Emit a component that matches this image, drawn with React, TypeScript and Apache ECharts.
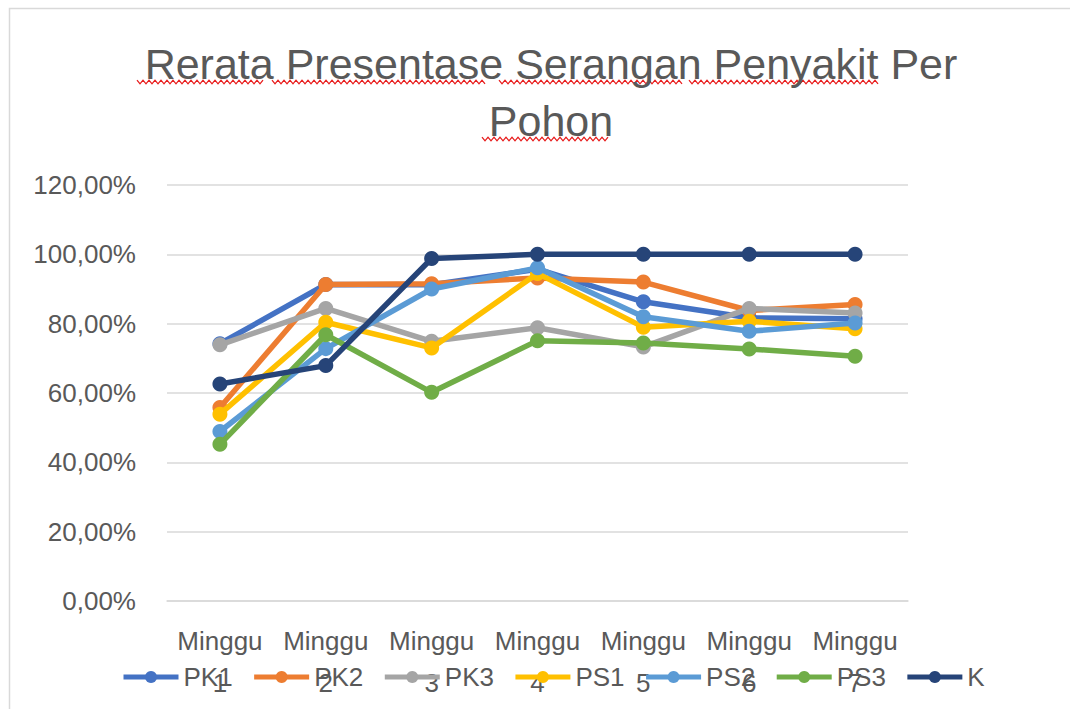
import React, { useEffect, useRef } from "react";
import * as echarts from "echarts";

const categories = ["Minggu\n1", "Minggu\n2", "Minggu\n3", "Minggu\n4", "Minggu\n5", "Minggu\n6", "Minggu\n7"];
const yTicks = [0, 0.2, 0.4, 0.6, 0.8, 1.0, 1.2];

const PK1 = [0.742, 0.913, 0.912, 0.957, 0.863, 0.817, 0.814];
const PK2 = [0.558, 0.913, 0.915, 0.932, 0.920, 0.838, 0.855];
const PK3 = [0.739, 0.844, 0.749, 0.788, 0.733, 0.844, 0.831];
const PS1 = [0.539, 0.804, 0.730, 0.945, 0.790, 0.807, 0.785];
const PS2 = [0.489, 0.728, 0.900, 0.961, 0.820, 0.778, 0.802];
const PS3 = [0.452, 0.768, 0.602, 0.751, 0.744, 0.727, 0.706];
const K = [0.626, 0.679, 0.988, 1.0, 1.0, 1.0, 1.0];

const seriesNames = ["PK1", "PK2", "PK3", "PS1", "PS2", "PS3", "K"];
const seriesData = [PK1, PK2, PK3, PS1, PS2, PS3, K];
const colors = ["#4472C4", "#ED7D31", "#A5A5A5", "#FFC000", "#5B9BD5", "#70AD47", "#264478"];

const FONT = "'Liberation Sans', Arial, sans-serif";

function squiggle(x0: number, x1: number, y: number) {
  const pts: number[][] = [];
  let up = true;
  for (let x = x0; x <= x1; x += 3) {
    pts.push([x, up ? y - 1.8 : y + 1.8]);
    up = !up;
  }
  return {
    type: "polyline",
    shape: { points: pts },
    style: { stroke: "#E81B1B", lineWidth: 1.3, fill: null },
    silent: true,
  };
}

export default function App() {
  const ref = useRef<HTMLDivElement>(null);
  useEffect(() => {
    if (!ref.current) return;
    const chart = echarts.init(ref.current, null, { renderer: "svg" });
    chart.setOption({
      animation: false,
      backgroundColor: "#ffffff",
      title: {
        text: "Rerata Presentase Serangan Penyakit Per\nPohon",
        left: 546,
        top: 30,
        textAlign: "center",
        textStyle: {
          fontFamily: FONT,
          fontSize: 43,
          fontWeight: "normal",
          color: "#595959",
          lineHeight: 57,
        },
      },
      graphic: [
        {
          type: "rect",
          shape: { x: 9.5, y: 8.5, width: 1200, height: 900 },
          style: { stroke: "#D9D9D9", lineWidth: 1.5, fill: null },
          silent: true,
          z: -10,
        },
        squiggle(137, 265, 82),
        squiggle(272, 486, 82),
        squiggle(499, 684, 82),
        squiggle(689, 880, 82),
        squiggle(482, 610, 139),
      ],
      legend: {
        data: seriesNames,
        left: 116,
        top: 659,
        itemWidth: 55,
        itemHeight: 15,
        itemGap: 19,
        lineStyle: { width: 5 },
        textStyle: { fontFamily: FONT, fontSize: 26, color: "#595959", padding: [0, 0, 0, 0] },
      },
      grid: { left: 167, right: 162, top: 185, bottom: 108 },
      xAxis: {
        type: "category",
        data: categories,
        boundaryGap: true,
        axisLine: { show: true, lineStyle: { color: "#D9D9D9", width: 1.5 } },
        axisTick: { show: false },
        axisLabel: {
          fontFamily: FONT,
          fontSize: 26,
          color: "#595959",
          lineHeight: 42,
          margin: 19,
          interval: 0,
        },
      },
      yAxis: {
        type: "value",
        min: 0,
        max: 1.2,
        interval: 0.2,
        axisLine: { show: false },
        axisTick: { show: false },
        splitLine: { lineStyle: { color: "#D9D9D9", width: 1.5 } },
        axisLabel: {
          fontFamily: FONT,
          fontSize: 26,
          color: "#595959",
          margin: 31,
          formatter: (v: number) => (v * 100).toFixed(2).replace(".", ",") + "%",
        },
      },
      series: seriesNames.map((name, i) => ({
        name,
        type: "line",
        data: seriesData[i],
        symbol: "circle",
        symbolSize: 15,
        lineStyle: { width: 5.5, color: colors[i] },
        itemStyle: { color: colors[i] },
        z: 2 + i,
      })),
      color: colors,
    });
    return () => chart.dispose();
  }, []);
  return (
    <div
      ref={ref}
      style={{ position: "fixed", left: 0, top: 0, width: 1070, height: 709 }}
    />
  );
}
